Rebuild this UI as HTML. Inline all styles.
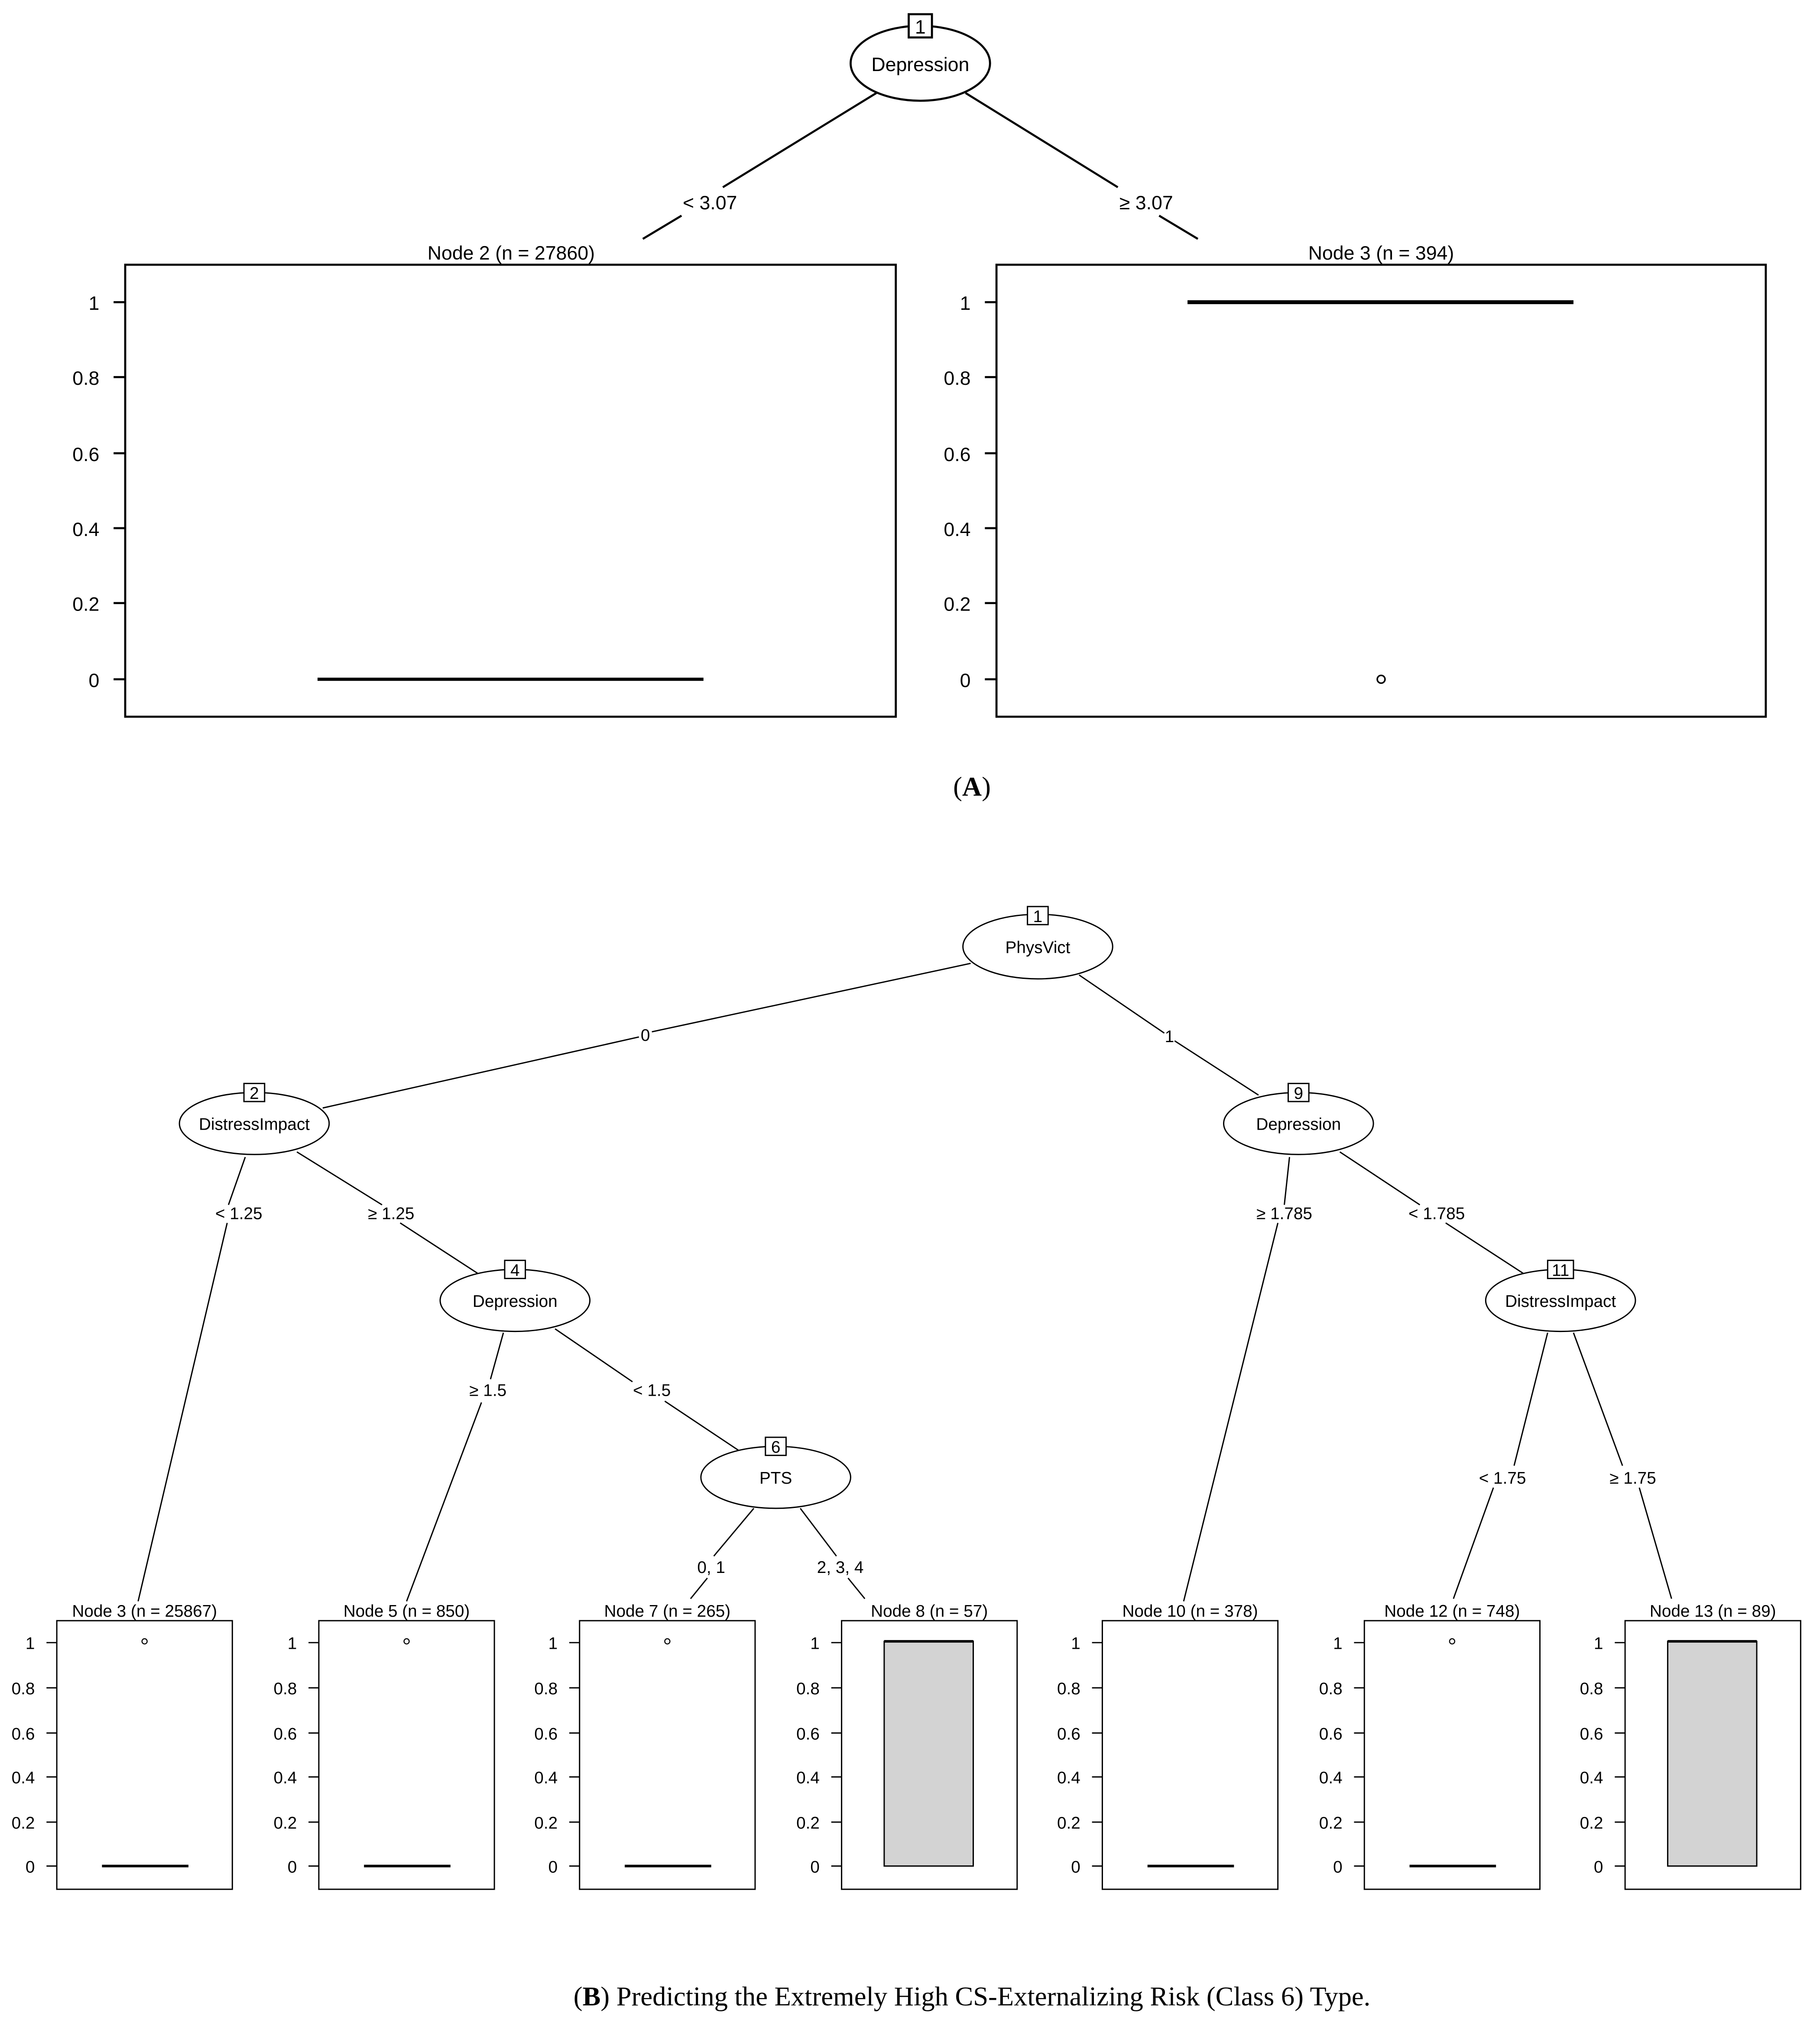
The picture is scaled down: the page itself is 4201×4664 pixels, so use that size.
<!DOCTYPE html>
<html><head><meta charset="utf-8"><style>html,body{margin:0;padding:0;background:#fff}svg{display:block}</style></head><body>
<svg xmlns="http://www.w3.org/2000/svg" width="4201" height="4664" viewBox="0 0 1410 1565" preserveAspectRatio="none">
<rect width="1410" height="1565" fill="#fff"/>
<g font-family="Liberation Sans, sans-serif" fill="#000" stroke="none">
<!-- Panel A -->
<g stroke="#000" stroke-width="1.6" fill="none">
<line x1="679" y1="72" x2="560" y2="145"/><line x1="528" y1="167" x2="498" y2="185"/>
<line x1="748" y1="72" x2="866" y2="145"/><line x1="898" y1="167" x2="928" y2="185"/>
<ellipse cx="713" cy="49" rx="54" ry="29" fill="#fff"/>
<rect x="704" y="11" width="18" height="18" fill="#fff"/>
<rect x="97" y="205" width="597" height="350"/>
<rect x="772" y="205" width="596" height="350"/>
<path d="M88 234H97M88 292H97M88 351H97M88 409H97M88 467H97M88 526H97"/>
<path d="M763 234H772M763 292H772M763 351H772M763 409H772M763 467H772M763 526H772"/>
<line x1="246" y1="526" x2="545" y2="526" stroke-width="2.5"/>
<line x1="920" y1="234" x2="1219" y2="234" stroke-width="3"/>
<circle cx="1070" cy="526" r="3" stroke-width="1.2"/>
</g>
<g font-size="15">
<text x="713" y="26" text-anchor="middle">1</text>
<text x="713" y="55" text-anchor="middle">Depression</text>
<text x="550" y="162" text-anchor="middle">&lt; 3.07</text>
<text x="888" y="162" text-anchor="middle">≥ 3.07</text>
<text x="396" y="201" text-anchor="middle">Node 2 (n = 27860)</text>
<text x="1070" y="201" text-anchor="middle">Node 3 (n = 394)</text>
<g text-anchor="end">
<text x="77" y="240">1</text><text x="77" y="298">0.8</text><text x="77" y="357">0.6</text><text x="77" y="415">0.4</text><text x="77" y="473">0.2</text><text x="77" y="532">0</text>
<text x="752" y="240">1</text><text x="752" y="298">0.8</text><text x="752" y="357">0.6</text><text x="752" y="415">0.4</text><text x="752" y="473">0.2</text><text x="752" y="532">0</text>
</g>
</g>
<text x="753" y="616" text-anchor="middle" font-family="Liberation Serif, serif" font-size="21">(<tspan font-weight="bold">A</tspan>)</text>

<!-- Panel B -->
<g stroke="#000" stroke-width="1" fill="none">
<line x1="752" y1="746" x2="505" y2="799"/><line x1="495" y1="803" x2="250" y2="858"/>
<line x1="836" y1="755" x2="902" y2="800"/><line x1="910" y1="806" x2="975" y2="848"/>
<line x1="190" y1="896" x2="177" y2="933"/><line x1="176" y1="947" x2="107" y2="1240"/>
<line x1="230" y1="892" x2="296" y2="933"/><line x1="310" y1="947" x2="370" y2="986"/>
<line x1="390" y1="1032" x2="380" y2="1068"/><line x1="373" y1="1086" x2="315" y2="1240"/>
<line x1="430" y1="1029" x2="490" y2="1070"/><line x1="515" y1="1085" x2="572" y2="1123"/>
<line x1="584" y1="1168" x2="553" y2="1205"/><line x1="548" y1="1222" x2="535" y2="1238"/>
<line x1="620" y1="1168" x2="648" y2="1205"/><line x1="657" y1="1222" x2="670" y2="1238"/>
<line x1="999" y1="896" x2="995" y2="933"/><line x1="990" y1="947" x2="917" y2="1240"/>
<line x1="1038" y1="892" x2="1100" y2="933"/><line x1="1120" y1="947" x2="1180" y2="986"/>
<line x1="1199" y1="1032" x2="1173" y2="1135"/><line x1="1157" y1="1152" x2="1126" y2="1238"/>
<line x1="1219" y1="1032" x2="1257" y2="1135"/><line x1="1270" y1="1152" x2="1295" y2="1238"/>
<g fill="#fff">
<ellipse cx="804" cy="733" rx="58" ry="25"/><rect x="796" y="702" width="16" height="14"/>
<ellipse cx="197" cy="870" rx="58" ry="24"/><rect x="189" y="839" width="16" height="14"/>
<ellipse cx="399" cy="1007" rx="58" ry="24"/><rect x="391" y="976" width="16" height="14"/>
<ellipse cx="601" cy="1144" rx="58" ry="24"/><rect x="593" y="1113" width="16" height="14"/>
<ellipse cx="1006" cy="870" rx="58" ry="24"/><rect x="998" y="839" width="16" height="14"/>
<ellipse cx="1209" cy="1007" rx="58" ry="24"/><rect x="1199" y="976" width="20" height="14"/>
</g>
</g>
<g font-size="13" text-anchor="middle">
<text x="804" y="714">1</text><text x="804" y="738">PhysVict</text>
<text x="197" y="851">2</text><text x="197" y="875">DistressImpact</text>
<text x="399" y="988">4</text><text x="399" y="1012">Depression</text>
<text x="601" y="1125">6</text><text x="601" y="1149">PTS</text>
<text x="1006" y="851">9</text><text x="1006" y="875">Depression</text>
<text x="1209" y="988">11</text><text x="1209" y="1012">DistressImpact</text>
<text x="500" y="806">0</text><text x="906" y="807">1</text>
<text x="185" y="944">&lt; 1.25</text><text x="303" y="944">≥ 1.25</text>
<text x="378" y="1081">≥ 1.5</text><text x="505" y="1081">&lt; 1.5</text>
<text x="551" y="1218">0, 1</text><text x="651" y="1218">2, 3, 4</text>
<text x="995" y="944">≥ 1.785</text><text x="1113" y="944">&lt; 1.785</text>
<text x="1164" y="1149">&lt; 1.75</text><text x="1265" y="1149">≥ 1.75</text>
</g>
<!-- leaves -->
<g font-size="13">
<g transform="translate(44,0)">
<rect x="0" y="1255" width="136" height="208" fill="none" stroke="#000"/>
<path d="M-8 1272H0M-8 1307H0M-8 1342H0M-8 1376H0M-8 1411H0M-8 1445H0" stroke="#000"/>
<g text-anchor="end"><text x="-17" y="1277">1</text><text x="-17" y="1312">0.8</text><text x="-17" y="1347">0.6</text><text x="-17" y="1381">0.4</text><text x="-17" y="1416">0.2</text><text x="-17" y="1450">0</text></g>
<text x="68" y="1252" text-anchor="middle">Node 3 (n = 25867)</text>
<line x1="35" y1="1445" x2="102" y2="1445" stroke="#000" stroke-width="2"/><circle cx="68" cy="1271" r="2" fill="none" stroke="#000" stroke-width="0.8"/>
</g>
<g transform="translate(247,0)">
<rect x="0" y="1255" width="136" height="208" fill="none" stroke="#000"/>
<path d="M-8 1272H0M-8 1307H0M-8 1342H0M-8 1376H0M-8 1411H0M-8 1445H0" stroke="#000"/>
<g text-anchor="end"><text x="-17" y="1277">1</text><text x="-17" y="1312">0.8</text><text x="-17" y="1347">0.6</text><text x="-17" y="1381">0.4</text><text x="-17" y="1416">0.2</text><text x="-17" y="1450">0</text></g>
<text x="68" y="1252" text-anchor="middle">Node 5 (n = 850)</text>
<line x1="35" y1="1445" x2="102" y2="1445" stroke="#000" stroke-width="2"/><circle cx="68" cy="1271" r="2" fill="none" stroke="#000" stroke-width="0.8"/>
</g>
<g transform="translate(449,0)">
<rect x="0" y="1255" width="136" height="208" fill="none" stroke="#000"/>
<path d="M-8 1272H0M-8 1307H0M-8 1342H0M-8 1376H0M-8 1411H0M-8 1445H0" stroke="#000"/>
<g text-anchor="end"><text x="-17" y="1277">1</text><text x="-17" y="1312">0.8</text><text x="-17" y="1347">0.6</text><text x="-17" y="1381">0.4</text><text x="-17" y="1416">0.2</text><text x="-17" y="1450">0</text></g>
<text x="68" y="1252" text-anchor="middle">Node 7 (n = 265)</text>
<line x1="35" y1="1445" x2="102" y2="1445" stroke="#000" stroke-width="2"/><circle cx="68" cy="1271" r="2" fill="none" stroke="#000" stroke-width="0.8"/>
</g>
<g transform="translate(652,0)">
<rect x="0" y="1255" width="136" height="208" fill="none" stroke="#000"/>
<path d="M-8 1272H0M-8 1307H0M-8 1342H0M-8 1376H0M-8 1411H0M-8 1445H0" stroke="#000"/>
<g text-anchor="end"><text x="-17" y="1277">1</text><text x="-17" y="1312">0.8</text><text x="-17" y="1347">0.6</text><text x="-17" y="1381">0.4</text><text x="-17" y="1416">0.2</text><text x="-17" y="1450">0</text></g>
<text x="68" y="1252" text-anchor="middle">Node 8 (n = 57)</text>
<rect x="33" y="1271" width="69" height="174" fill="#d3d3d3" stroke="#000"/>
<line x1="33" y1="1271" x2="102" y2="1271" stroke="#000" stroke-width="2"/>
</g>
<g transform="translate(854,0)">
<rect x="0" y="1255" width="136" height="208" fill="none" stroke="#000"/>
<path d="M-8 1272H0M-8 1307H0M-8 1342H0M-8 1376H0M-8 1411H0M-8 1445H0" stroke="#000"/>
<g text-anchor="end"><text x="-17" y="1277">1</text><text x="-17" y="1312">0.8</text><text x="-17" y="1347">0.6</text><text x="-17" y="1381">0.4</text><text x="-17" y="1416">0.2</text><text x="-17" y="1450">0</text></g>
<text x="68" y="1252" text-anchor="middle">Node 10 (n = 378)</text>
<line x1="35" y1="1445" x2="102" y2="1445" stroke="#000" stroke-width="2"/>
</g>
<g transform="translate(1057,0)">
<rect x="0" y="1255" width="136" height="208" fill="none" stroke="#000"/>
<path d="M-8 1272H0M-8 1307H0M-8 1342H0M-8 1376H0M-8 1411H0M-8 1445H0" stroke="#000"/>
<g text-anchor="end"><text x="-17" y="1277">1</text><text x="-17" y="1312">0.8</text><text x="-17" y="1347">0.6</text><text x="-17" y="1381">0.4</text><text x="-17" y="1416">0.2</text><text x="-17" y="1450">0</text></g>
<text x="68" y="1252" text-anchor="middle">Node 12 (n = 748)</text>
<line x1="35" y1="1445" x2="102" y2="1445" stroke="#000" stroke-width="2"/><circle cx="68" cy="1271" r="2" fill="none" stroke="#000" stroke-width="0.8"/>
</g>
<g transform="translate(1259,0)">
<rect x="0" y="1255" width="136" height="208" fill="none" stroke="#000"/>
<path d="M-8 1272H0M-8 1307H0M-8 1342H0M-8 1376H0M-8 1411H0M-8 1445H0" stroke="#000"/>
<g text-anchor="end"><text x="-17" y="1277">1</text><text x="-17" y="1312">0.8</text><text x="-17" y="1347">0.6</text><text x="-17" y="1381">0.4</text><text x="-17" y="1416">0.2</text><text x="-17" y="1450">0</text></g>
<text x="68" y="1252" text-anchor="middle">Node 13 (n = 89)</text>
<rect x="33" y="1271" width="69" height="174" fill="#d3d3d3" stroke="#000"/>
<line x1="33" y1="1271" x2="102" y2="1271" stroke="#000" stroke-width="2"/>
</g>
</g>
<text x="753" y="1553" text-anchor="middle" font-family="Liberation Serif, serif" font-size="21">(<tspan font-weight="bold">B</tspan>) Predicting the Extremely High CS-Externalizing Risk (Class 6) Type.</text>
</g>
</svg>
</body></html>
